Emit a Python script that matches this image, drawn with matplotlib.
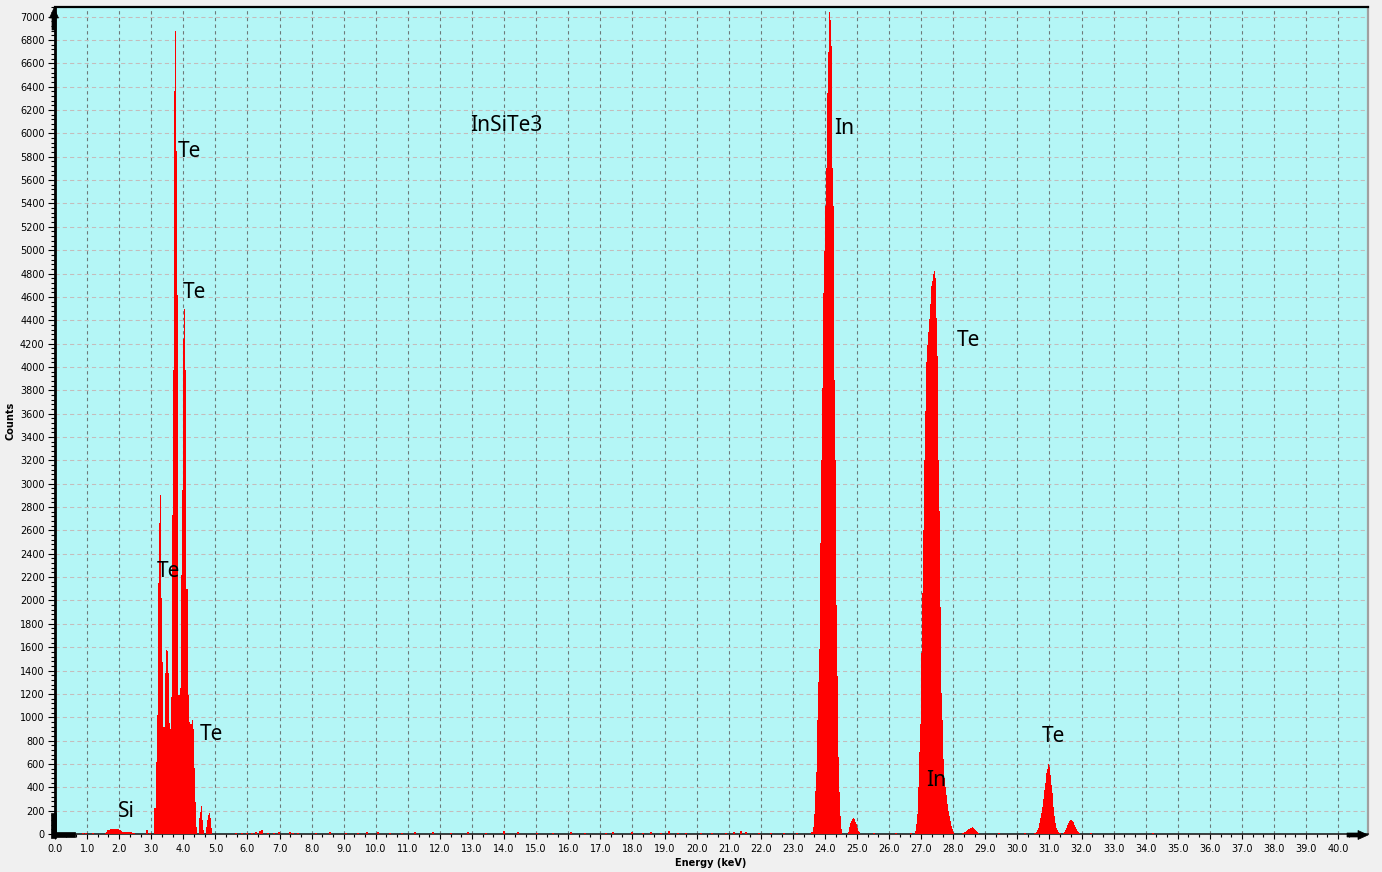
import matplotlib
matplotlib.use('Agg')
import matplotlib.pyplot as plt
import numpy as np
from matplotlib.ticker import MultipleLocator, FormatStrFormatter, AutoMinorLocator
from matplotlib.patches import Polygon

# ---------------- data ----------------
channel_kev = 0.03117  # keV per displayed channel

si_start = 1.55
si_counts = [10, 20, 30, 35, 38, 40, 42, 44, 45, 45, 44, 43, 42, 40, 38,
             30, 22, 20, 20, 20, 20, 20, 20, 20, 20, 18, 15, 12, 10, 5]

te_l_start = 3.086
te_l_counts = [220, 220, 620, 1020, 2150, 2665, 2900, 2020, 1475, 920, 920,
               1380, 1580, 1570, 1380, 950, 900, 1175, 2730, 3975, 6360, 6880,
               5850, 4620, 1190, 1190, 1250, 2220, 2950, 4240, 4500, 3975,
               2100, 2100, 1190, 960, 940, 940, 980, 900, 565, 275, 60, 0, 0,
               137, 190, 240, 120, 30, 0, 0, 60, 120, 163, 180, 137, 50]

in_ka_start = 23.566
in_ka_counts = [20, 20, 60, 175, 367, 528, 977, 1298, 1583, 2490, 3200, 3820,
                4633, 4990, 5380, 5700, 6350, 6700, 7040, 6970, 6750, 5700,
                5380, 3890, 3200, 1960, 1350, 660, 360, 150, 40]

in_kb_start = 24.719
in_kb_counts = [20, 60, 96, 115, 128, 138, 128, 105, 83, 50, 28, 14]

te_ka_start = 26.808
te_ka_counts = [23, 83, 174, 404, 702, 945, 1550, 2064, 2605, 3202, 3624, 4046,
                4188, 4300, 4413, 4541, 4693, 4738, 4798, 4821, 4761, 4417,
                4096, 3202, 2766, 1940, 1206, 977, 640, 480, 400, 330, 260,
                200, 150, 110, 70, 40, 20]

esc_start = 28.273
esc_counts = [5, 10, 15, 20, 25, 33, 40, 45, 50, 55, 57, 52, 45, 35, 25, 15, 8]

te_kb_start = 30.517
te_kb_counts = [5, 10, 20, 35, 51, 90, 137, 180, 230, 300, 380, 437, 520, 560,
                600, 570, 508, 420, 351, 230, 150, 94, 55, 37, 20, 12, 8]

te_kb2_start = 31.421
te_kb2_counts = [10, 20, 35, 55, 75, 95, 110, 120, 123, 115, 100, 80, 60, 40,
                 25, 15, 8]

bg_energy = [0.85, 0.95, 1.15, 2.83, 2.93, 5.60, 5.80, 5.95, 6.10, 6.25, 6.35,
             6.42, 6.60, 6.80, 6.95, 7.30, 7.40, 7.55, 8.10, 8.55, 9.05, 9.40,
             9.70, 10.05, 10.40, 10.80, 11.20, 11.75, 12.30, 12.85, 13.40,
             13.95, 14.40, 15.00, 15.50, 16.05, 16.50, 17.15, 17.35, 17.95,
             18.30, 18.55, 18.85, 19.12, 19.40, 19.65, 20.10, 20.45, 20.90,
             21.15, 21.35, 21.50, 21.90, 22.30, 22.70, 23.10, 25.50, 26.20,
             26.65, 29.40, 30.20, 32.25, 34.20]
bg_counts = [5, 5, 10, 35, 10, 8, 10, 10, 12, 15, 25, 30, 10, 12, 15, 15, 12,
             10, 12, 15, 12, 10, 15, 20, 12, 10, 15, 20, 12, 15, 10, 25, 15,
             12, 10, 15, 12, 12, 15, 20, 10, 20, 10, 25, 10, 12, 10, 8, 10, 20,
             22, 18, 10, 8, 8, 10, 10, 8, 8, 6, 6, 10, 10]

label_text = ["Te", "Te", "Te", "Te", "Si", "InSiTe3", "In", "Te", "In", "Te"]
label_e = [3.834, 3.99, 3.18, 4.52, 1.96, 12.94, 24.28, 28.12, 27.15, 30.77]
label_c = [5801, 4593, 2202, 805, 146, 6024, 5998, 4182, 411, 788]

x_ticks = np.arange(0, 41, 1.0)
y_ticks = np.arange(0, 7001, 200)

# ---------------- figure ----------------
W, H = 1382, 872
fig = plt.figure(figsize=(W / 100, H / 100), dpi=100, facecolor='#f0f0f0')
ax = fig.add_axes([55 / W, 1 - 834 / H, (1367.7 - 55) / W, (834 - 7.3) / H])
ax.set_facecolor('#b4f6f6')
ax.set_xlim(0, 40.92)
ax.set_ylim(0, 7080)

red = '#ff0000'


def draw_peak(start, counts):
    edges = start + channel_kev * np.arange(len(counts) + 1)
    ax.stairs(counts, edges, fill=True, color=red, linewidth=0, zorder=3,
              antialiased=False)


for s, c in [(si_start, si_counts), (te_l_start, te_l_counts),
             (in_ka_start, in_ka_counts), (in_kb_start, in_kb_counts),
             (te_ka_start, te_ka_counts), (esc_start, esc_counts),
             (te_kb_start, te_kb_counts), (te_kb2_start, te_kb2_counts)]:
    draw_peak(s, c)

ax.bar(bg_energy, bg_counts, width=2 * channel_kev, color=red, linewidth=0,
       align='edge', zorder=3, antialiased=False)

for t, e, c in zip(label_text, label_e, label_c):
    ax.text(e, c, t, ha='left', va='baseline', fontsize=15,
            family='Noto Sans', color='black', zorder=5)

# grid
ax.xaxis.grid(True, which='major', color='#6e7a7a', linestyle=(0, (3, 3)),
              linewidth=0.8, zorder=0.5)
ax.yaxis.grid(True, which='major', color='#c4bcbc', linestyle=(0, (4, 3)),
              linewidth=0.75, zorder=0.5)
ax.set_axisbelow(True)

# ticks
ax.set_xticks(x_ticks)
ax.xaxis.set_major_formatter(FormatStrFormatter('%.1f'))
ax.xaxis.set_minor_locator(AutoMinorLocator(3))
ax.set_yticks(y_ticks)
ax.yaxis.set_minor_locator(MultipleLocator(40))
ax.tick_params(axis='both', which='both', direction='out', colors='black',
               labelsize=7)
ax.tick_params(axis='y', which='major', length=5, width=0.8, pad=2.5)
ax.tick_params(axis='y', which='minor', length=3, width=0.8)
ax.tick_params(axis='x', which='major', length=3.5, width=0.8, pad=4)
ax.tick_params(axis='x', which='minor', length=2.5, width=0.8)
for lab in ax.get_xticklabels() + ax.get_yticklabels():
    lab.set_family('DejaVu Sans')

# spines
ax.spines['left'].set_color('black')
ax.spines['left'].set_linewidth(2.0)
ax.spines['top'].set_color('black')
ax.spines['top'].set_linewidth(1.6)
ax.spines['bottom'].set_color('#202020')
ax.spines['bottom'].set_linewidth(1.2)
ax.spines['right'].set_color('#a0a0a0')
ax.spines['right'].set_linewidth(1.6)

fig.text(10 / W, 1 - 421 / H, 'Counts', rotation=90, ha='center', va='center',
         fontsize=7, fontweight='bold', family='DejaVu Sans')
fig.text(711 / W, 1 - 863 / H, 'Energy (keV)', ha='center', va='center',
         fontsize=7, fontweight='bold', family='DejaVu Sans')


# axis arrows (decoration)
def px(pts):
    return [(x / W, 1 - y / H) for x, y in pts]


arrows = [
    [(54, 8), (58.5, 18), (56, 18), (56, 30), (52, 30), (52, 18), (49.5, 18)],
    [(1368, 835), (1358, 830.5), (1358, 833), (1347, 833), (1347, 837),
     (1358, 837), (1358, 839.5)],
    [(51.5, 813), (56.5, 813), (56.5, 838), (51.5, 838)],
    [(54, 832), (75, 832), (75, 837), (54, 837)],
]
for pts in arrows:
    fig.patches.append(Polygon(px(pts), closed=True, facecolor='black',
                               edgecolor='black', linewidth=0.5,
                               transform=fig.transFigure, zorder=10))

fig.savefig('out.png', dpi=100, facecolor=fig.get_facecolor())
